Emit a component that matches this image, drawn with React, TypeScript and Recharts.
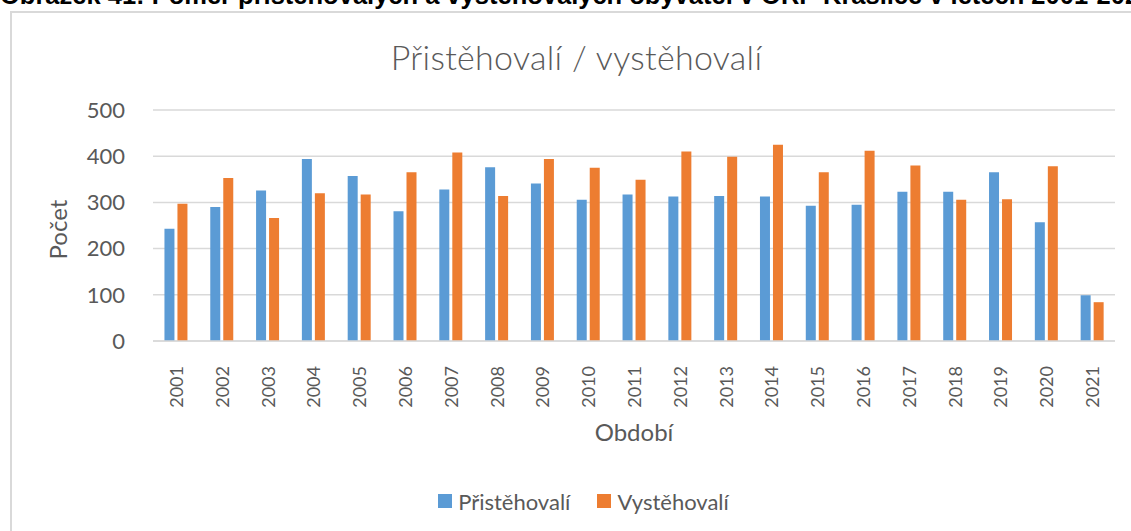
import { BarChart, Bar, XAxis, YAxis, CartesianGrid, Legend } from 'recharts';

const years = ['2001', '2002', '2003', '2004', '2005', '2006', '2007', '2008', '2009', '2010', '2011',
  '2012', '2013', '2014', '2015', '2016', '2017', '2018', '2019', '2020', '2021'];
const pristehovali = [243, 290, 326, 394, 357, 281, 328, 376, 341, 306, 317, 313, 314, 313, 293, 295, 323, 323, 365, 257, 99];
const vystehovali = [297, 353, 266, 320, 317, 365, 408, 314, 394, 375, 349, 410, 399, 425, 365, 412, 380, 306, 307, 378, 84];
const yTicks = [0, 100, 200, 300, 400, 500];

const BLUE = '#5B9BD5';
const ORANGE = '#ED7D31';
const TEXT = '#595959';
const FONT = 'Lato, "Open Sans", sans-serif';

const data = years.map((y, i) => ({ year: y, pri: pristehovali[i], vy: vystehovali[i] }));

function YearTick({ x, y, payload }: any) {
  const ty = y + 17;
  return (
    <text
      x={x}
      y={ty}
      transform={`rotate(-90, ${x}, ${ty})`}
      textAnchor="end"
      dominantBaseline="central"
      fill={TEXT}
      fontSize={18}
      fontFamily={FONT}
    >
      {payload.value}
    </text>
  );
}

function LegendBox() {
  const items = [
    { label: 'Přistěhovalí', color: BLUE },
    { label: 'Vystěhovalí', color: ORANGE },
  ];
  return (
    <div style={{ height: 40, paddingLeft: 52, boxSizing: 'border-box', display: 'flex', justifyContent: 'center', alignItems: 'center', gap: 27, fontFamily: FONT, fontSize: 22, color: TEXT }}>
      {items.map((it) => (
        <div key={it.label} style={{ display: 'flex', alignItems: 'center', gap: 6 }}>
          <span style={{ width: 14, height: 14, background: it.color, display: 'inline-block' }} />
          <span>{it.label}</span>
        </div>
      ))}
    </div>
  );
}

export default function App() {
  return (
    <div style={{ position: 'absolute', left: 0, top: 0, width: 1131, height: 531, overflow: 'hidden', background: '#fff' }}>
      <div style={{ position: 'absolute', left: 0, top: -17, lineHeight: '25.5px', whiteSpace: 'nowrap', fontFamily: '"Liberation Sans", Arial, sans-serif', fontWeight: 700, fontSize: 25.5, color: '#000' }}>
        Obrázek 41: Poměr přistěhovalých a vystěhovalých obyvatel v ORP Kraslice v letech 2001-2021
      </div>
      <div style={{ position: 'absolute', left: 10, top: 11, width: 1200, height: 600, border: '2px solid #d9d9d9' }} />
      <div style={{ position: 'absolute', left: 0, top: 36, width: 1131, textAlign: 'center', paddingLeft: 22, boxSizing: 'border-box', fontFamily: FONT, fontWeight: 300, fontSize: 34, letterSpacing: 0.3, color: TEXT }}>
        Přistěhovalí / vystěhovalí
      </div>
      <div style={{ position: 'absolute', left: 0, top: 0 }}>
        <BarChart
          width={1131}
          height={531}
          data={data}
          margin={{ top: 110, right: 16, bottom: 10, left: 0 }}
          barCategoryGap="25%"
          barGap={3}
        >
          <CartesianGrid vertical={false} stroke="#d9d9d9" strokeWidth={1.5} />
          <XAxis
            dataKey="year"
            height={140}
            tickLine={false}
            axisLine={{ stroke: '#d9d9d9', strokeWidth: 1.5 }}
            tick={<YearTick />}
            interval={0}
            label={{ value: 'Období', position: 'insideBottom', offset: 40, fill: TEXT, fontSize: 24, fontFamily: FONT }}
          />
          <YAxis
            width={153}
            domain={[0, 500]}
            ticks={yTicks}
            tickLine={false}
            axisLine={false}
            tickSize={0}
            tickMargin={28}
            tick={{ fill: TEXT, fontSize: 22, fontFamily: FONT }}
            label={{ value: 'Počet', angle: -90, position: 'center', dx: -18, dy: 4, fill: TEXT, fontSize: 24, fontFamily: FONT }}
          />
          <Legend verticalAlign="bottom" content={<LegendBox />} />
          <Bar dataKey="pri" name="Přistěhovalí" fill={BLUE} isAnimationActive={false} />
          <Bar dataKey="vy" name="Vystěhovalí" fill={ORANGE} isAnimationActive={false} />
        </BarChart>
      </div>
    </div>
  );
}
